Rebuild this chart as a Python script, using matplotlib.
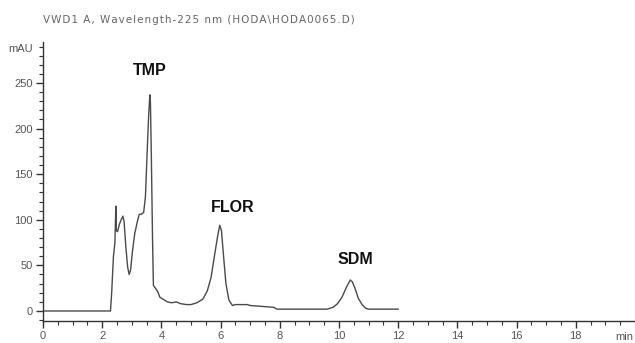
import matplotlib
matplotlib.use("Agg")
import matplotlib.pyplot as plt
from matplotlib.ticker import MultipleLocator

time_min = [0.0, 2.28, 2.32, 2.38, 2.43, 2.46, 2.48, 2.52, 2.58, 2.64, 2.70, 2.74,
            2.80, 2.86, 2.91, 2.96, 3.02, 3.10, 3.18, 3.25, 3.32, 3.40, 3.46, 3.52,
            3.57, 3.61, 3.63, 3.66, 3.70, 3.73, 3.80, 3.88, 3.95, 4.05, 4.20, 4.35,
            4.50, 4.65, 4.85, 5.00, 5.20, 5.40, 5.55, 5.68, 5.80, 5.90, 5.97, 6.03,
            6.10, 6.18, 6.28, 6.40, 6.50, 6.70, 6.90, 7.00, 7.40, 7.80, 7.90, 9.60,
            9.80, 9.95, 10.10, 10.25, 10.38, 10.45, 10.55, 10.65, 10.78, 10.90, 11.00, 12.00]
signal_mau = [0, 0, 20, 60, 75, 115, 88, 87, 95, 100, 104, 98,
              70, 48, 40, 45, 65, 85, 97, 106, 106, 108, 125, 175,
              215, 237, 228, 170, 80, 28, 25, 21, 15, 13, 10, 9,
              10, 8, 7, 7, 9, 13, 22, 37, 62, 82, 94, 88,
              60, 30, 12, 6, 7, 7, 7, 6, 5, 4, 2, 2,
              4, 8, 15, 26, 34, 32, 24, 14, 7, 3, 2, 2]

peak_names = ["TMP", "FLOR", "SDM"]
peak_label_t = [3.6, 6.4, 10.55]
peak_label_y = [264, 113, 56]

x_ticks = [0, 2, 4, 6, 8, 10, 12, 14, 16, 18]
y_ticks = [0, 50, 100, 150, 200, 250]
title = "VWD1 A, Wavelength-225 nm (HODA\\HODA0065.D)"

narrow = ["Liberation Sans Narrow", "Liberation Sans", "DejaVu Sans"]
bold_font = ["Liberation Sans", "DejaVu Sans"]

fig = plt.figure(figsize=(6.35, 3.43), dpi=100)
ax = fig.add_axes([43/635, 1-321/343, 1-43/635, (321-42)/343])

ax.plot(time_min, signal_mau, color="#4a4a4a", lw=1.0)

ax.set_xlim(0, 20)
ax.set_ylim(-11, 295)
for s in ["top", "right"]:
    ax.spines[s].set_visible(False)
for s in ["left", "bottom"]:
    ax.spines[s].set_color("#333333")
    ax.spines[s].set_linewidth(1.0)

ax.set_xticks(x_ticks)
ax.set_yticks(y_ticks)
ax.xaxis.set_minor_locator(MultipleLocator(0.5))
ax.yaxis.set_minor_locator(MultipleLocator(10))
ax.tick_params(axis="both", which="major", length=5, width=1.0, color="#333333",
               labelsize=8, labelcolor="#555555", pad=2.5)
ax.tick_params(axis="both", which="minor", length=3, width=0.8, color="#333333")
for lab in ax.get_xticklabels() + ax.get_yticklabels():
    lab.set_family(narrow)

for name, t, y in zip(peak_names, peak_label_t, peak_label_y):
    ax.text(t, y, name, ha="center", va="center", fontsize=11.5,
            fontweight="bold", family=bold_font, color="#111111")

# letter-spaced title, sized to span the same width as the reference
spaced_title = "\u200a".join(title)
ttl = fig.text(43/635, 1-20/343, spaced_title, ha="left", va="center", fontsize=7,
               family=["DejaVu Sans"], color="#666666")
renderer = fig.canvas.get_renderer()
w = ttl.get_window_extent(renderer).width
ttl.set_fontsize(min(8.0, 7 * 314.0 / w))

fig.text(8/635, 1-49/343, "mAU", ha="left", va="center", fontsize=8,
         family=narrow, color="#555555")
fig.text(615/635, 1-337/343, "min", ha="left", va="center", fontsize=8,
         family=narrow, color="#555555")

fig.savefig("out.png", dpi=100)
